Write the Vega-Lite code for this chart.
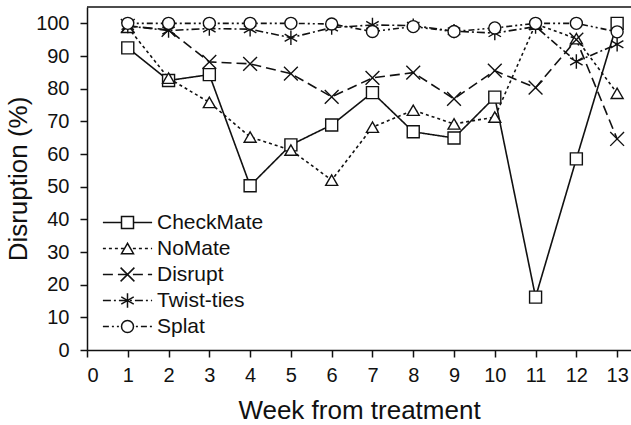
{
  "$schema": "https://vega.github.io/schema/vega-lite/v6.json",
  "autosize": "none",
  "width": 544,
  "height": 343,
  "padding": {"left": 87, "top": 7, "right": 0, "bottom": 75},
  "background": "white",
  "config": {
    "view": {"stroke": null},
    "font": "Liberation Sans",
    "axis": {
      "grid": false,
      "domainColor": "#111",
      "domainWidth": 1.5,
      "tickColor": "#111",
      "tickWidth": 1.5,
      "tickSize": 7,
      "labelColor": "#111",
      "titleColor": "#111",
      "labelFontSize": 20,
      "titleFontSize": 26,
      "titleFontWeight": "normal",
      "labelFont": "Liberation Sans",
      "titleFont": "Liberation Sans",
      "labelOverlap": false
    },
    "legend": {
      "labelFont": "Liberation Sans",
      "labelFontSize": 21,
      "labelColor": "#111",
      "padding": 0
    }
  },
  "data": {
    "values": [
      {"week": 1, "series": "CheckMate", "value": 92.5},
      {"week": 2, "series": "CheckMate", "value": 82.5},
      {"week": 3, "series": "CheckMate", "value": 84.3},
      {"week": 4, "series": "CheckMate", "value": 50.3},
      {"week": 5, "series": "CheckMate", "value": 62.8},
      {"week": 6, "series": "CheckMate", "value": 68.9},
      {"week": 7, "series": "CheckMate", "value": 78.8},
      {"week": 8, "series": "CheckMate", "value": 66.8},
      {"week": 9, "series": "CheckMate", "value": 64.9},
      {"week": 10, "series": "CheckMate", "value": 77.4},
      {"week": 11, "series": "CheckMate", "value": 16.2},
      {"week": 12, "series": "CheckMate", "value": 58.5},
      {"week": 13, "series": "CheckMate", "value": 100},
      {"week": 1, "series": "NoMate", "value": 98.8},
      {"week": 2, "series": "NoMate", "value": 83.2},
      {"week": 3, "series": "NoMate", "value": 75.8},
      {"week": 4, "series": "NoMate", "value": 65.2},
      {"week": 5, "series": "NoMate", "value": 61.2},
      {"week": 6, "series": "NoMate", "value": 52.0},
      {"week": 7, "series": "NoMate", "value": 68.2},
      {"week": 8, "series": "NoMate", "value": 73.4},
      {"week": 9, "series": "NoMate", "value": 69.2},
      {"week": 10, "series": "NoMate", "value": 71.3},
      {"week": 11, "series": "NoMate", "value": 99.8},
      {"week": 12, "series": "NoMate", "value": 95.3},
      {"week": 13, "series": "NoMate", "value": 78.6},
      {"week": 1, "series": "Disrupt", "value": 99.2},
      {"week": 2, "series": "Disrupt", "value": 98.0},
      {"week": 3, "series": "Disrupt", "value": 88.2},
      {"week": 4, "series": "Disrupt", "value": 87.6},
      {"week": 5, "series": "Disrupt", "value": 84.6},
      {"week": 6, "series": "Disrupt", "value": 77.5},
      {"week": 7, "series": "Disrupt", "value": 83.3},
      {"week": 8, "series": "Disrupt", "value": 84.9},
      {"week": 9, "series": "Disrupt", "value": 76.9},
      {"week": 10, "series": "Disrupt", "value": 85.5},
      {"week": 11, "series": "Disrupt", "value": 80.3},
      {"week": 12, "series": "Disrupt", "value": 95.0},
      {"week": 13, "series": "Disrupt", "value": 64.6},
      {"week": 1, "series": "Twist-ties", "value": 99.2},
      {"week": 2, "series": "Twist-ties", "value": 97.8},
      {"week": 3, "series": "Twist-ties", "value": 98.4},
      {"week": 4, "series": "Twist-ties", "value": 98.2},
      {"week": 5, "series": "Twist-ties", "value": 95.6},
      {"week": 6, "series": "Twist-ties", "value": 98.7},
      {"week": 7, "series": "Twist-ties", "value": 99.5},
      {"week": 8, "series": "Twist-ties", "value": 99.3},
      {"week": 9, "series": "Twist-ties", "value": 97.6},
      {"week": 10, "series": "Twist-ties", "value": 97.0},
      {"week": 11, "series": "Twist-ties", "value": 99.0},
      {"week": 12, "series": "Twist-ties", "value": 88.3},
      {"week": 13, "series": "Twist-ties", "value": 93.6},
      {"week": 1, "series": "Splat", "value": 100},
      {"week": 2, "series": "Splat", "value": 100},
      {"week": 3, "series": "Splat", "value": 100},
      {"week": 4, "series": "Splat", "value": 100},
      {"week": 5, "series": "Splat", "value": 100},
      {"week": 6, "series": "Splat", "value": 99.8},
      {"week": 7, "series": "Splat", "value": 97.5},
      {"week": 8, "series": "Splat", "value": 99.0},
      {"week": 9, "series": "Splat", "value": 97.5},
      {"week": 10, "series": "Splat", "value": 98.6},
      {"week": 11, "series": "Splat", "value": 100},
      {"week": 12, "series": "Splat", "value": 100},
      {"week": 13, "series": "Splat", "value": 97.4}
    ]
  },
  "layer": [
    {
      "mark": {"type": "line", "color": "#111", "strokeWidth": 1.6, "clip": false},
      "encoding": {
        "x": {
          "field": "week", "type": "quantitative",
          "scale": {"domain": [0, 13.34], "nice": false, "zero": false},
          "axis": {"values": [0,1,2,3,4,5,6,7,8,9,10,11,12,13], "title": "Week from treatment", "labelPadding": 8, "titlePadding": 12}
        },
        "y": {
          "field": "value", "type": "quantitative",
          "scale": {"domain": [0, 105], "nice": false},
          "axis": {"values": [0,10,20,30,40,50,60,70,80,90,100], "title": "Disruption (%)", "labelPadding": 11, "titlePadding": 4, "labelOverlap": false, "tickCount": 11}
        },
        "strokeDash": {
          "field": "series", "type": "nominal",
          "scale": {
            "domain": ["Splat", "Twist-ties", "Disrupt", "NoMate", "CheckMate"],
            "range": [[6, 3, 2, 3, 2, 3], [8, 3, 2, 3], [10, 5], [3, 3], [1, 0]]
          },
          "legend": {
            "orient": "none", "legendX": 30, "legendY": 205, "title": null,
            "values": ["CheckMate", "NoMate", "Disrupt", "Twist-ties", "Splat"],
            "symbolType": "M-4.1,0H4.1", "symbolSize": 144, "symbolStrokeWidth": 1.5,
            "symbolStrokeColor": "#111", "labelOpacity": 0, "labelOffset": 19, "rowPadding": 4
          }
        }
      }
    },
    {
      "mark": {"type": "point", "filled": true, "fill": "white", "stroke": "#111", "strokeWidth": 1.4, "size": 144, "opacity": 1},
      "encoding": {
        "x": {"field": "week", "type": "quantitative"},
        "y": {"field": "value", "type": "quantitative"},
        "shape": {
          "field": "series", "type": "nominal",
          "scale": {
            "domain": ["CheckMate", "NoMate", "Disrupt", "Twist-ties", "Splat"],
            "range": ["square", "triangle-up", "M-1.15,-1.15L1.15,1.15M1.15,-1.15L-1.15,1.15", "M0,-1.2L0,1.2M-1.04,-0.6L1.04,0.6M1.04,-0.6L-1.04,0.6", "circle"]
          },
          "legend": {
            "orient": "none", "legendX": 30, "legendY": 205, "title": null,
            "symbolSize": 144, "labelOffset": 19, "rowPadding": 4, "zindex": 1,
            "encode": {
              "symbols": {
                "stroke": {"value": "#111"},
                "strokeWidth": {"value": 1.4},
                "fill": {"value": "white"},
                "opacity": {"value": 1}
              }
            }
          }
        }
      }
    },
    {
      "data": {"values": [{}]},
      "mark": {"type": "rule", "color": "#111", "strokeWidth": 1.5},
      "encoding": {
        "y": {"datum": 105, "type": "quantitative", "axis": {"values": [0,10,20,30,40,50,60,70,80,90,100], "title": "Disruption (%)", "labelPadding": 11, "titlePadding": 4, "labelOverlap": false}}
      }
    }
  ]
}
